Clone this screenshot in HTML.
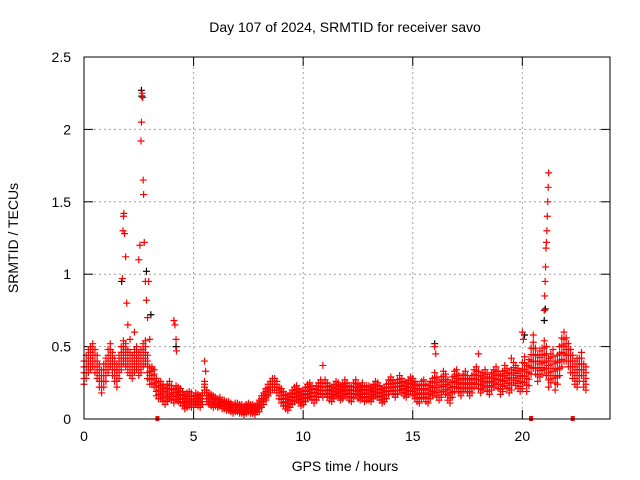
<!DOCTYPE html>
<html><head><meta charset="utf-8"><style>
body{margin:0;background:#fff;}
svg{display:block;font-family:"Liberation Sans",sans-serif;}
</style></head><body>
<svg id="chart" width="640" height="480" viewBox="0 0 640 480">
<text x="345" y="32" font-size="14" text-anchor="middle">Day 107 of 2024, SRMTID for receiver savo</text>
<text transform="translate(18,238) rotate(-90)" font-size="14" text-anchor="middle">SRMTID / TECUs</text>
<text x="345" y="471" font-size="14" text-anchor="middle">GPS time / hours</text>
<g id="grid"></g>
<g id="ticks"></g>
<g id="marks"></g>
<rect x="84" y="57" width="526" height="362" fill="none" stroke="#000" stroke-width="1"/>
</svg>
<script>
const xTicks=[0,5,10,15,20];
const yTicks=[0,0.5,1,1.5,2,2.5];
const yTickLabels=["0","0.5","1","1.5","2","2.5"];
const baseStart=0, baseStep=0.1;
const baseValues=[
.32,.36,.40,.42,.44,.40,.36,.30,.26,.30,
.34,.40,.44,.38,.34,.30,.36,.42,.46,.44,
.40,.38,.36,.40,.42,.38,.40,.44,.46,.36,
.30,.30,.28,.22,.20,.20,.18,.16,.18,.20,
.18,.16,.18,.17,.16,.14,.12,.13,.14,.13,
.12,.14,.13,.12,.14,.22,.16,.14,.13,.12,
.12,.11,.12,.10,.10,.09,.09,.08,.07,.08,
.08,.07,.07,.06,.07,.08,.07,.07,.06,.08,
.09,.12,.14,.17,.20,.22,.24,.24,.22,.18,
.16,.14,.12,.11,.13,.15,.17,.18,.16,.14,
.15,.17,.19,.20,.18,.16,.18,.20,.22,.20,
.22,.20,.18,.17,.19,.21,.20,.18,.19,.22,
.20,.18,.17,.20,.22,.19,.18,.20,.17,.18,
.18,.17,.19,.21,.20,.18,.16,.17,.19,.22,
.24,.22,.20,.22,.25,.23,.21,.20,.22,.24,
.22,.20,.18,.17,.20,.21,.18,.17,.20,.22,
.25,.22,.20,.22,.26,.24,.20,.18,.22,.26,
.28,.24,.22,.25,.27,.24,.22,.24,.28,.30,
.27,.24,.26,.28,.25,.23,.26,.28,.30,.27,
.24,.26,.30,.28,.25,.27,.32,.30,.28,.26,
.30,.34,.28,.32,.40,.44,.40,.35,.38,.40,
.44,.40,.32,.35,.38,.30,.34,.40,.46,.50,
.48,.44,.40,.36,.32,.30,.34,.38,.30,.28];
const spreadByHour=[.08,.08,.08,.06,.05,.04,.03,.03,.04,.05,.05,.05,.05,.05,.05,.06,.07,.06,.06,.07,.09,.1,.08];
const spikeTimes=[1.75,1.78,1.8,1.82,1.85,1.9,1.95,2.0,2.1,2.3,2.5,2.55,2.6,2.62,2.65,2.68,2.7,2.72,2.75,2.8,2.85,2.9,2.95,3.0,3.1,4.1,4.15,4.2,4.22,5.5,5.55,10.9,16.0,16.05,18.0,19.5,20.0,20.05,20.5,21.0,21.02,21.04,21.06,21.08,21.1,21.12,21.14,21.16,21.18,21.2,22.5];
const spikeValues=[0.97,1.3,1.4,1.42,1.28,1.12,0.8,0.65,0.55,0.6,1.1,1.2,1.92,2.05,2.25,2.22,1.65,1.55,1.22,0.95,0.82,0.7,0.95,0.55,0.35,0.68,0.65,0.55,0.47,0.4,0.33,0.37,0.5,0.45,0.45,0.42,0.6,0.55,0.58,0.75,0.85,0.95,1.05,1.18,1.22,1.3,1.4,1.5,1.6,1.7,0.42];
const blackTimes=[1.72,2.62,2.64,2.85,3.05,4.2,16.0,20.1,21.0,21.05];
const blackValues=[0.95,2.27,2.23,1.02,0.72,0.5,0.52,0.58,0.68,0.76];
const flagTimes=[3.35,20.4,22.3];

const X=v=>84+v*(526/24), Y=v=>419-v*(362/2.5);
const NS="http://www.w3.org/2000/svg";
const grid=document.getElementById('grid'),ticks=document.getElementById('ticks'),marks=document.getElementById('marks');
function mk(t,a,p){const e=document.createElementNS(NS,t);for(const k in a)e.setAttribute(k,a[k]);p.appendChild(e);return e;}
xTicks.forEach(t=>{
 const x=X(t);
 if(t>0){const g=mk('line',{x1:x,y1:57,x2:x,y2:419,stroke:'#a0a0a0','stroke-dasharray':'2,3'},grid);
 
 }
 mk('line',{x1:x,y1:419,x2:x,y2:410,stroke:'#000'},ticks);
 mk('line',{x1:x,y1:57,x2:x,y2:66,stroke:'#000'},ticks);
 const l=mk('text',{x:x,y:441,'font-size':14,'text-anchor':'middle'},ticks);l.textContent=t;
 
 
});
yTicks.forEach((t,i)=>{
 const y=Y(t);
 if(t>0&&t<2.5){const g=mk('line',{x1:84,y1:y,x2:610,y2:y,stroke:'#a0a0a0','stroke-dasharray':'2,3'},grid);
 
 }
 mk('line',{x1:84,y1:y,x2:93,y2:y,stroke:'#000'},ticks);
 mk('line',{x1:610,y1:y,x2:601,y2:y,stroke:'#000'},ticks);
 const l=mk('text',{x:71,y:y+5,'font-size':14,'text-anchor':'end'},ticks);l.textContent=yTickLabels[i];
 
 
});
function cross(t,v,col){
 const x=X(t),y=Y(v);
 const p=mk('path',{d:`M${x-3.5},${y}h7M${x},${y-3.5}v7`,stroke:col,'stroke-width':1.2,fill:'none'},marks);
 
 
}
blackTimes.forEach((t,i)=>cross(t,blackValues[i],'#000'));
baseValues.forEach((v,i)=>{
 const t=baseStart+i*baseStep, sp=spreadByHour[Math.floor(t)]||0.05;
 [-1,-0.5,0,0.5,1].forEach(f=>cross(t,Math.max(0.03,v+f*sp),'#f00'));
});
spikeTimes.forEach((t,i)=>cross(t,spikeValues[i],'#f00'));
flagTimes.forEach(t=>{
 const r=mk('rect',{x:X(t)-2,y:416,width:4,height:5,fill:'#f00'},marks);
 
 
});
</script>
</body></html>
